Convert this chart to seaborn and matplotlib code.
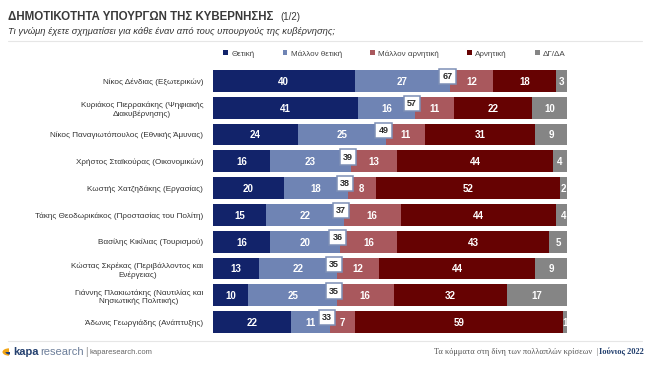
import numpy as np
import pandas as pd
import matplotlib
matplotlib.use("Agg")
import matplotlib.pyplot as plt
import seaborn as sns
from matplotlib.patches import Patch, Wedge

# data
ministers = [
    "Νίκος Δένδιας (Εξωτερικών)",
    "Κυριάκος Πιερρακάκης (Ψηφιακής\nΔιακυβέρνησης)",
    "Νίκος Παναγιωτόπουλος (Εθνικής Άμυνας)",
    "Χρήστος Σταϊκούρας (Οικονομικών)",
    "Κωστής Χατζηδάκης (Εργασίας)",
    "Τάκης Θεοδωρικάκος (Προστασίας του Πολίτη)",
    "Βασίλης Κικίλιας (Τουρισμού)",
    "Κώστας Σκρέκας (Περιβάλλοντος και\nΕνέργειας)",
    "Γιάννης Πλακιωτάκης (Ναυτιλίας και\nΝησιωτικής Πολιτικής)",
    "Άδωνις Γεωργιάδης (Ανάπτυξης)",
]
positive = [40, 41, 24, 16, 20, 15, 16, 13, 10, 22]
rather_positive = [27, 16, 25, 23, 18, 22, 20, 22, 25, 11]
rather_negative = [12, 11, 11, 13, 8, 16, 16, 12, 16, 7]
negative = [18, 22, 31, 44, 52, 44, 43, 44, 32, 59]
dk_na = [3, 10, 9, 4, 2, 4, 5, 9, 17, 1]

series_names = ["Θετική", "Μάλλον θετική", "Μάλλον αρνητική", "Αρνητική", "ΔΓ/ΔΑ"]
colors = ["#12236a", "#6f84b4", "#a9585d", "#660202", "#858585"]

df = pd.DataFrame({
    "minister": ministers,
    "Θετική": positive,
    "Μάλλον θετική": rather_positive,
    "Μάλλον αρνητική": rather_negative,
    "Αρνητική": negative,
    "ΔΓ/ΔΑ": dk_na,
})
cum = df[series_names].cumsum(axis=1)

sns.set_style("white")
plt.rcParams["font.family"] = ["Liberation Sans", "DejaVu Sans"]
serif = ["Liberation Serif", "DejaVu Serif"]

W, H = 650, 366
fig = plt.figure(figsize=(W / 100, H / 100), dpi=100)
fig.patch.set_facecolor("white")
ax = fig.add_axes([213 / W, 1 - 335.5 / H, 354 / W, 268 / H])

# stacked bars: draw cumulative totals from the widest down
for name, col in reversed(list(zip(series_names, colors))):
    sns.barplot(x=cum[name], y=df["minister"], orient="h", color=col,
                width=0.82, saturation=1, ax=ax, linewidth=0)

for i in range(len(df)):
    left = 0
    for name in series_names:
        v = df.loc[i, name]
        ax.text(left + v / 2, i + 0.03, str(v), ha="center", va="center",
                color="white", fontsize=7, fontweight="bold")
        left += v
    tot = df.loc[i, "Θετική"] + df.loc[i, "Μάλλον θετική"]
    ax.text(tot - 0.8, i - 0.16, str(tot), ha="center", va="center",
            color="#2b2b2b", fontsize=6.5, fontweight="bold",
            bbox=dict(boxstyle="square,pad=0.35", fc="white", ec="#7d8fb6", lw=1.1))

ax.set_xlim(0, 100)
ax.set_ylim(len(df) - 0.5, -0.5)
ax.set_xlabel("")
ax.set_ylabel("")
ax.set_xticks([])
ax.tick_params(axis="y", length=0, pad=7)
for lab in ax.get_yticklabels():
    lab.set_fontsize(5.9)
    lab.set_color("#333333")
    lab.set_multialignment("center")
    lab.set_linespacing(1.35)
sns.despine(ax=ax, left=True, bottom=True, top=True, right=True)

# title and subtitle
fig.text(8 / W, 1 - 17 / H, "ΔΗΜΟΤΙΚΟΤΗΤΑ ΥΠΟΥΡΓΩΝ ΤΗΣ ΚΥΒΕΡΝΗΣΗΣ", fontsize=8.3,
         fontweight="bold", color="#3a3a3a", va="center")
fig.text(280 / W, 1 - 17 / H, "(1/2)", fontsize=7, color="#3a3a3a", va="center")
fig.text(8 / W, 1 - 32 / H, "Τι γνώμη έχετε σχηματίσει για κάθε έναν από τους υπουργούς της κυβέρνησης;",
         fontsize=6.75, style="italic", color="#333333", va="center")
fig.add_artist(plt.Line2D([8 / W, 642 / W], [1 - 41 / H] * 2, color="#e6e6e6", lw=0.8))

# legend
handles = [Patch(facecolor=c, edgecolor="none", label=n) for n, c in zip(series_names, colors)]
fig.legend(handles=handles, loc="center left", bbox_to_anchor=(216 / W, 1 - 54 / H),
           ncol=5, frameon=False, fontsize=5.8, handlelength=0.6, handleheight=0.6,
           handletextpad=0.4, columnspacing=3.5, labelcolor="#444444")

# footer
fig.add_artist(plt.Line2D([8 / W, 642 / W], [1 - 341 / H] * 2, color="#e6e6e6", lw=0.8))
fig.add_artist(Wedge((9 / W, 1 - 352 / H), 0.010, 90, 270, facecolor="#f2a515",
                     edgecolor="none", transform=fig.transFigure))
fig.add_artist(Wedge((10 / W, 1 - 352 / H), 0.007, 180, 270, facecolor="#1f3f7a",
                     edgecolor="none", transform=fig.transFigure))
fig.text(13 / W, 1 - 352 / H, "kapa", fontsize=8, fontweight="bold", color="#24406f", va="center")
fig.text(40 / W, 1 - 352 / H, "research", fontsize=8, color="#6d7f9a", va="center")
fig.text(85 / W, 1 - 352 / H, "|", fontsize=7, color="#888888", va="center")
fig.text(90 / W, 1 - 352 / H, "kaparesearch.com", fontsize=5.5, color="#666666", va="center")
fig.text(598 / W, 1 - 352 / H, "Τα κόμματα στη δίνη των πολλαπλών κρίσεων  |", fontsize=6,
         color="#555555", family=serif, ha="right", va="center")
fig.text(644 / W, 1 - 352 / H, "Ιούνιος 2022", fontsize=6, fontweight="bold",
         color="#23406e", family=serif, ha="right", va="center")

fig.savefig("out.png", dpi=100, facecolor="white")
